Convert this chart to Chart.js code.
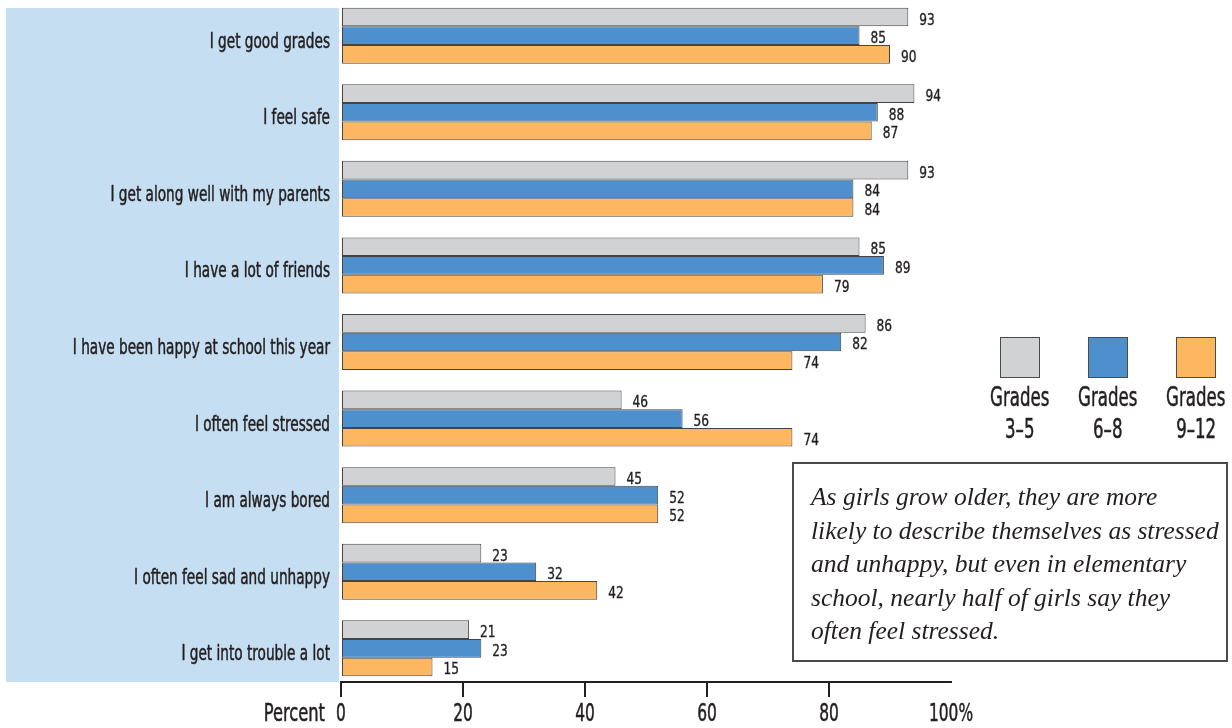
<!DOCTYPE html>
<html>
<head>
<meta charset="utf-8">
<script src="https://cdn.jsdelivr.net/npm/chart.js@4.4.1/dist/chart.umd.min.js"></script>
<style>
  html, body { margin: 0; padding: 0; background: #fff; }
  body { width: 1232px; height: 728px; position: relative; overflow: hidden; }
  #panel { position: absolute; left: 6px; top: 8px; width: 333px; height: 674px; background: #c5def2; }
  #wrap { position: absolute; left: 0; top: 0; width: 1232px; height: 728px; }
  .narrow { font-family: "DejaVu Sans Condensed", "DejaVu Sans", sans-serif; color: #231f20; }
  .sw { position: absolute; top: 337px; width: 40px; height: 41px; border: 1px solid #4a4a4a; box-sizing: border-box; }
  .kt { position: absolute; width: 100px; text-align: center; font-size: 26px; line-height: 26px; white-space: nowrap;
        -webkit-text-stroke: 0.5px #231f20; }
  .kt span { display: inline-block; transform: scaleX(0.71); transform-origin: 50% 50%; }
  #note { position: absolute; left: 792px; top: 462px; width: 436px; height: 200px; box-sizing: border-box;
          border: 2px solid #4a4a4a; padding: 16px 0 0 17px;
          font-family: "Liberation Serif", "DejaVu Serif", serif; font-style: italic; font-size: 25.5px;
          line-height: 33.6px; color: #231f20; white-space: nowrap; }
</style>
</head>
<body>
<div id="panel"></div>
<div id="wrap"><canvas id="c" width="1232" height="728"></canvas></div>
<div id="legend"></div>
<div id="note">As girls grow older, they are more<br>likely to describe themselves as stressed<br>and unhappy, but even in elementary<br>school, nearly half of girls say they<br>often feel stressed.</div>
<script>
// Survey statements (top to bottom)
const categories = [
  "I get good grades",
  "I feel safe",
  "I get along well with my parents",
  "I have a lot of friends",
  "I have been happy at school this year",
  "I often feel stressed",
  "I am always bored",
  "I often feel sad and unhappy",
  "I get into trouble a lot"
];
// Percent of girls agreeing, by grade band
const grades3to5  = [93, 94, 93, 85, 86, 46, 45, 23, 21];
const grades6to8  = [85, 88, 84, 89, 82, 56, 52, 32, 23];
const grades9to12 = [90, 87, 84, 79, 74, 74, 52, 42, 15];
const seriesNames = [["Grades", "3\u20135"], ["Grades", "6\u20138"], ["Grades", "9\u201312"]];
const seriesColors = ["#d1d2d4", "#4d90cd", "#fcb760"];
const xTicks = [0, 20, 40, 60, 80, 100];
const xTitle = "Percent";

const NARROW = '"DejaVu Sans Condensed", "DejaVu Sans", sans-serif';
const INK = '#231f20';

// Legend: swatch with two-line caption centred below it
const legend = document.getElementById('legend');
const keyCenter = [1020, 1108, 1196];
seriesNames.forEach((name, i) => {
  const sw = document.createElement('div');
  sw.className = 'sw';
  sw.style.left = (keyCenter[i] - 20) + 'px';
  sw.style.background = seriesColors[i];
  legend.appendChild(sw);
  name.forEach((line, j) => {
    const t = document.createElement('div');
    t.className = 'kt narrow';
    t.style.left = (keyCenter[i] - 50) + 'px';
    t.style.top = (j === 0 ? 384 : 416) + 'px';
    t.innerHTML = '<span>' + line + '</span>';
    legend.appendChild(t);
  });
});

const toPoints = arr => arr.map((v, i) => ({ x: v, y: i }));

// Condensed text: horizontally squeezed glyphs with a hairline stroke for weight
function squeezed(ctx, text, x, y, sx, align) {
  ctx.save();
  ctx.translate(x, y);
  ctx.scale(sx, 1);
  ctx.textAlign = align;
  ctx.fillText(text, 0, 0);
  ctx.strokeText(text, 0, 0);
  ctx.restore();
}

// Axis labels and bar value labels in a condensed face
const condensedText = {
  id: 'condensedText',
  afterDraw(chart) {
    const ctx = chart.ctx;
    const xs = chart.scales.x, ys = chart.scales.y;
    const area = chart.chartArea;
    ctx.save();
    ctx.fillStyle = INK;
    ctx.strokeStyle = INK;
    ctx.lineWidth = 0.5;
    ctx.lineJoin = 'round';
    ctx.textBaseline = 'alphabetic';

    // category labels
    ctx.font = '20.5px ' + NARROW;
    categories.forEach((c, i) => {
      squeezed(ctx, c, area.left - 11, ys.getPixelForValue(i) + 12, 0.74, 'right');
    });

    // x tick labels and axis title
    ctx.font = '24.5px ' + NARROW;
    xTicks.forEach(v => {
      squeezed(ctx, v === 100 ? '100%' : String(v), xs.getPixelForValue(v), area.bottom + 39, 0.7, 'center');
    });
    squeezed(ctx, xTitle, area.left - 16, area.bottom + 39, 0.74, 'right');

    // value labels
    ctx.font = '16.5px ' + NARROW;
    ctx.lineWidth = 0.35;
    chart.data.datasets.forEach((ds, di) => {
      chart.getDatasetMeta(di).data.forEach((bar, i) => {
        squeezed(ctx, String(ds.data[i].x), bar.x + 11, bar.y + 7.5, 0.82, 'left');
      });
    });
    ctx.restore();
  }
};

new Chart(document.getElementById('c'), {
  type: 'bar',
  data: {
    datasets: [grades3to5, grades6to8, grades9to12].map((vals, i) => ({
      label: seriesNames[i].join(' '),
      data: toPoints(vals),
      backgroundColor: seriesColors[i],
      borderColor: '#444',
      borderWidth: 1,
      borderSkipped: false,
      categoryPercentage: 0.7312,
      barPercentage: 1
    }))
  },
  options: {
    indexAxis: 'y',
    responsive: false,
    animation: false,
    events: [],
    layout: { padding: { left: 0, top: 0, right: 281, bottom: 0 } },
    plugins: { legend: { display: false }, tooltip: { enabled: false } },
    scales: {
      x: {
        type: 'linear',
        min: 0,
        max: 100,
        offset: false,
        afterBuildTicks: s => { s.ticks = xTicks.map(v => ({ value: v })); },
        afterFit: s => { s.height = 46; s.paddingLeft = 0; s.paddingRight = 0; },
        ticks: { display: false },
        grid: {
          display: true,
          offset: false,
          drawOnChartArea: false,
          drawTicks: true,
          tickLength: 15,
          lineWidth: 2,
          color: ctx => (ctx.tick && ctx.tick.value === 100 ? 'rgba(0,0,0,0)' : INK)
        },
        border: { display: true, color: INK, width: 2 }
      },
      y: {
        type: 'linear',
        reverse: true,
        offset: false,
        bounds: 'data',
        min: -0.466,
        max: 8.44,
        afterBuildTicks: s => { s.ticks = categories.map((_, i) => ({ value: i })); },
        afterFit: s => { s.width = 341; s.paddingTop = 0; s.paddingBottom = 0; },
        ticks: { display: false },
        grid: { display: false, offset: false, drawTicks: false },
        border: { display: false }
      }
    }
  },
  plugins: [condensedText]
});
</script>
</body>
</html>
